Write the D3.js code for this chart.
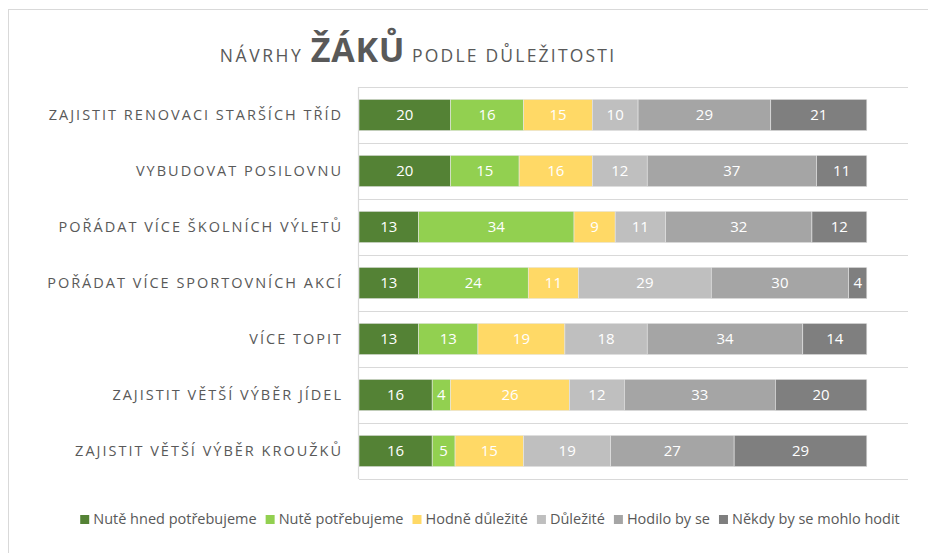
<!DOCTYPE html>
<html lang="cs">
<head>
<meta charset="utf-8">
<style>
html, body {
    margin: 0;
    padding: 0;
    background: #fff;
}
svg {
    width: 928px;
    height: 553px;
    display: block;
    font-family: "Open Sans", "Noto Sans", sans-serif;
}
</style>
</head>
<body>
<svg></svg>

<script src="https://cdn.jsdelivr.net/npm/d3@7"></script>
<script>
// data
var categories = [
    "ZAJISTIT RENOVACI STARŠÍCH TŘÍD",
    "VYBUDOVAT POSILOVNU",
    "POŘÁDAT VÍCE ŠKOLNÍCH VÝLETŮ",
    "POŘÁDAT VÍCE SPORTOVNÍCH AKCÍ",
    "VÍCE TOPIT",
    "ZAJISTIT VĚTŠÍ VÝBĚR JÍDEL",
    "ZAJISTIT VĚTŠÍ VÝBĚR KROUŽKŮ"
]
var seriesNames = [
    "Nutě hned potřebujeme",
    "Nutě potřebujeme",
    "Hodně důležité",
    "Důležité",
    "Hodilo by se",
    "Někdy by se mohlo hodit"
]
var nuteHned    = [20, 20, 13, 13, 13, 16, 16]
var nute        = [16, 15, 34, 24, 13,  4,  5]
var hodneDulez  = [15, 16,  9, 11, 19, 26, 15]
var dulezite    = [10, 12, 11, 29, 18, 12, 19]
var hodiloBy    = [29, 37, 32, 30, 34, 33, 27]
var nekdyBy     = [21, 11, 12,  4, 14, 20, 29]
var colors = ["#548235", "#92d050", "#ffd966", "#bfbfbf", "#a5a5a5", "#7f7f7f"]

var svg = d3.select("svg")
var width = 928, height = 553

// chart border
svg.append("rect")
    .attr("x", 8.5).attr("y", 9.5)
    .attr("width", 940).attr("height", 560)
    .attr("fill", "none")
    .attr("stroke", "#d9d9d9")

// title
var title = svg.append("text")
    .attr("x", 418).attr("y", 62)
    .attr("text-anchor", "middle")
    .attr("fill", "#595959")
title.append("tspan")
    .attr("font-size", 17.5).attr("letter-spacing", 2.6)
    .text("NÁVRHY ")
title.append("tspan")
    .attr("font-size", 34).attr("font-weight", "bold").attr("letter-spacing", 0.8)
    .text("ŽÁKŮ")
title.append("tspan")
    .attr("font-size", 17.5).attr("letter-spacing", 2.2)
    .text(" PODLE DŮLEŽITOSTI")

// scales
var x = d3.scaleLinear().domain([0, 120]).range([359, 908])
var y = d3.scaleBand().domain(categories).range([87, 479]).paddingInner(0.44).paddingOuter(0.22)
var band = d3.scaleBand().domain(categories).range([87, 479])

var rows = categories.map(function(c, i) {
    return {
        cat: c,
        s0: nuteHned[i], s1: nute[i], s2: hodneDulez[i],
        s3: dulezite[i], s4: hodiloBy[i], s5: nekdyBy[i]
    }
})
var stack = d3.stack().keys(["s0", "s1", "s2", "s3", "s4", "s5"])(rows)

// horizontal gridlines at band edges
svg.append("g")
    .selectAll("line")
    .data(categories.concat([null]))
    .join("line")
    .attr("x1", x(0)).attr("x2", x(120))
    .attr("y1", function(d, i) { return 87 + i * band.step() + 0.5 })
    .attr("y2", function(d, i) { return 87 + i * band.step() + 0.5 })
    .attr("stroke", "#d9d9d9")
    .attr("stroke-width", 1.2)

// left axis line
svg.append("line")
    .attr("x1", x(0) - 0.5).attr("x2", x(0) - 0.5)
    .attr("y1", 87).attr("y2", 479)
    .attr("stroke", "#d9d9d9")
    .attr("stroke-width", 1.2)

// bars
var groups = svg.append("g")
    .selectAll("g")
    .data(stack)
    .join("g")
    .attr("fill", function(d, i) { return colors[i] })

groups.selectAll("rect")
    .data(function(d) { return d })
    .join("rect")
    .attr("x", function(d) { return x(d[0]) })
    .attr("y", function(d) { return y(d.data.cat) })
    .attr("width", function(d) { return x(d[1]) - x(d[0]) })
    .attr("height", y.bandwidth())
    .attr("stroke", "#e6e6e6")
    .attr("stroke-width", 0.6)

groups.selectAll("text")
    .data(function(d) { return d })
    .join("text")
    .attr("x", function(d) { return (x(d[0]) + x(d[1])) / 2 })
    .attr("y", function(d) { return y(d.data.cat) + y.bandwidth() / 2 })
    .attr("dy", "0.36em")
    .attr("text-anchor", "middle")
    .attr("fill", "#fff")
    .attr("font-size", 15)
    .text(function(d) { return d[1] - d[0] })

// category labels
svg.append("g")
    .selectAll("text")
    .data(categories)
    .join("text")
    .attr("x", 343)
    .attr("y", function(d) { return y(d) + y.bandwidth() / 2 })
    .attr("dy", "0.36em")
    .attr("text-anchor", "end")
    .attr("fill", "#595959")
    .attr("font-size", 14.5)
    .attr("letter-spacing", 2.0)
    .text(function(d) { return d })

// legend
var legend = svg.append("g")
var lx = 0
var items = legend.selectAll("g")
    .data(seriesNames)
    .join("g")
items.append("rect")
    .attr("width", 9).attr("height", 9)
    .attr("y", -9)
    .attr("fill", function(d, i) { return colors[i] })
items.append("text")
    .attr("x", 13)
    .attr("fill", "#595959")
    .attr("font-size", 14.5)
    .text(function(d) { return d })
items.each(function() {
    var g = d3.select(this)
    g.attr("transform", "translate(" + lx + ",0)")
    lx += 13 + g.select("text").node().getComputedTextLength() + 9
})
legend.attr("transform", "translate(" + (490 - (lx - 9) / 2) + ",524)")
</script>
</body>
</html>
